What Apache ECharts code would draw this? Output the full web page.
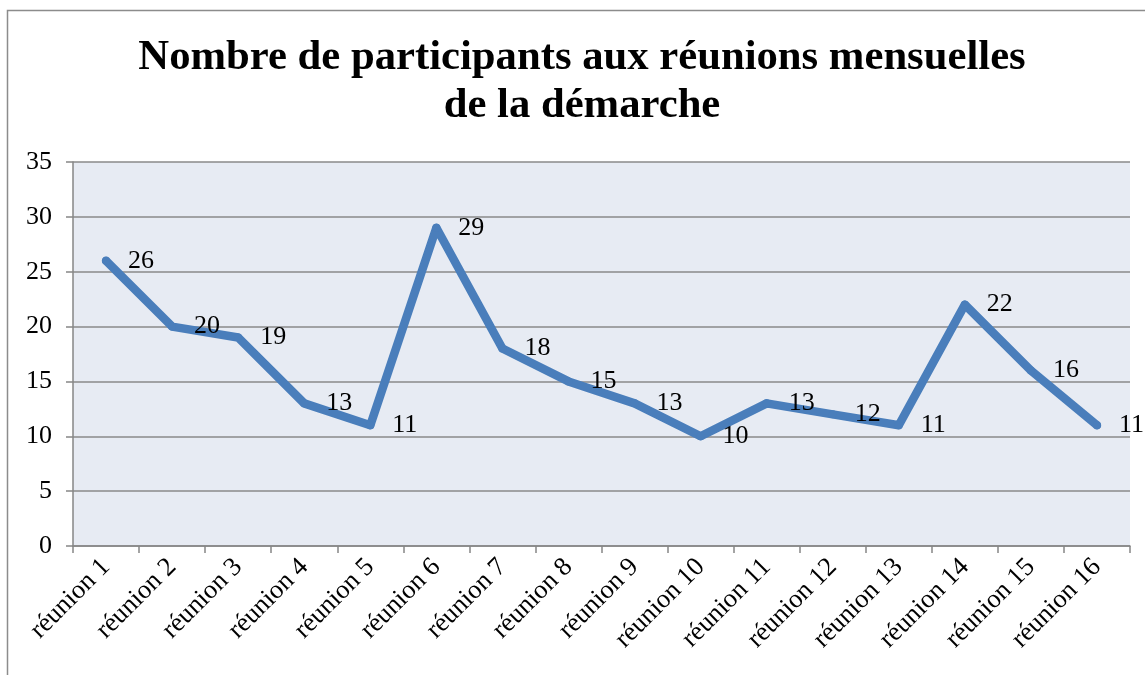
<!DOCTYPE html>
<html>
<head>
<meta charset="utf-8">
<script src="https://cdn.jsdelivr.net/npm/echarts@6/dist/echarts.min.js"></script>
<style>
  html, body { margin: 0; padding: 0; background: #fff; }
  #chart { width: 1145px; height: 675px; }
</style>
</head>
<body>
<div id="chart"></div>
<script>
// données
var reunions = ['réunion 1', 'réunion 2', 'réunion 3', 'réunion 4', 'réunion 5', 'réunion 6',
    'réunion 7', 'réunion 8', 'réunion 9', 'réunion 10', 'réunion 11', 'réunion 12',
    'réunion 13', 'réunion 14', 'réunion 15', 'réunion 16'];
var participants = [26, 20, 19, 13, 11, 29, 18, 15, 13, 10, 13, 12, 11, 22, 16, 11];

var serif = '"Liberation Serif", "DejaVu Serif", serif';

var myChart = echarts.init(document.getElementById('chart'));

var option = {
    animation: false,
    title: {
        text: 'Nombre de participants aux réunions mensuelles\nde la démarche',
        left: 582,
        textAlign: 'center',
        top: 34,
        padding: 0,
        textStyle: {
            fontFamily: serif,
            fontWeight: 'bold',
            fontSize: 42.7,
            lineHeight: 48,
            color: '#000'
        }
    },
    graphic: [{
        type: 'rect',
        silent: true,
        shape: { x: 7.5, y: 10.5, width: 1300, height: 800 },
        style: { fill: null, stroke: '#8c8c8c', lineWidth: 1.5 }
    }],
    grid: {
        left: 73,
        right: 15,
        top: 162,
        bottom: 129,
        show: true,
        backgroundColor: '#E7EBF3',
        borderWidth: 0
    },
    xAxis: {
        type: 'category',
        data: reunions,
        boundaryGap: true,
        axisLine: { lineStyle: { color: '#868686', width: 1.5 } },
        axisTick: { show: true, length: 7, lineStyle: { color: '#868686', width: 1.5 } },
        axisLabel: {
            rotate: 45,
            margin: 17,
            fontFamily: serif,
            fontSize: 26.5,
            color: '#000'
        }
    },
    yAxis: {
        type: 'value',
        min: 0,
        max: 35,
        interval: 5,
        axisLine: { show: true, lineStyle: { color: '#868686', width: 1.5 } },
        axisTick: { show: true, length: 7, lineStyle: { color: '#868686', width: 1.5 } },
        splitLine: { lineStyle: { color: '#8a8a8a', width: 1.5 } },
        axisLabel: {
            margin: 21,
            fontFamily: serif,
            fontSize: 26,
            color: '#000'
        }
    },
    series: [{
        name: 'participants',
        type: 'line',
        data: participants,
        symbol: 'circle',
        symbolSize: 8,
        itemStyle: { color: '#4A7EBB' },
        lineStyle: { color: '#4A7EBB', width: 8.5, cap: 'round', join: 'round' },
        label: {
            show: true,
            position: 'right',
            distance: 18,
            fontFamily: serif,
            fontSize: 26,
            color: '#000'
        }
    }]
};

myChart.setOption(option);
</script>
</body>
</html>
